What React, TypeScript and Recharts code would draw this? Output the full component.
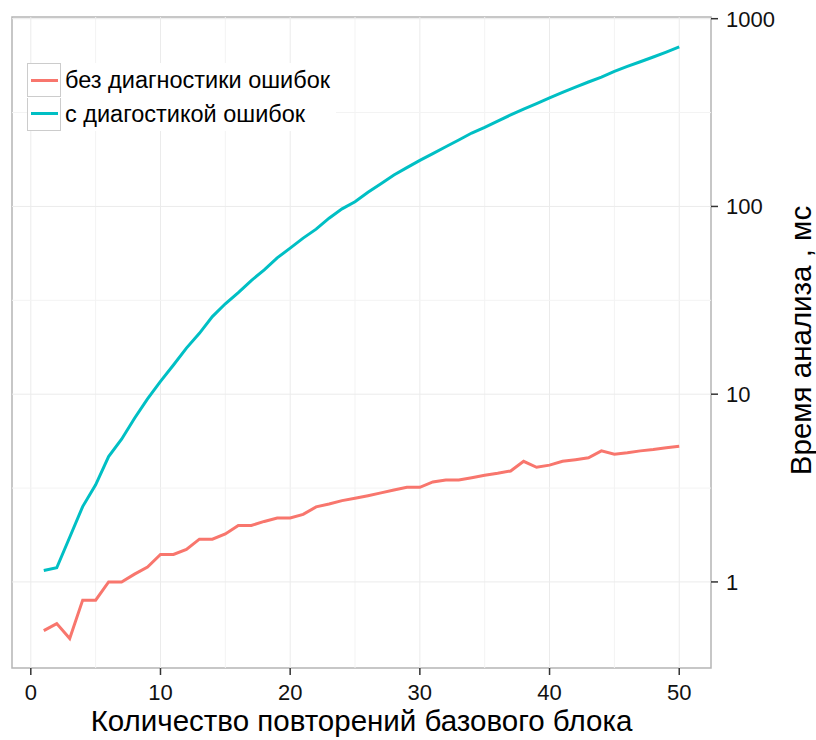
import {
  Legend,
  Line,
  LineChart,
  ReferenceArea,
  ReferenceLine,
  XAxis,
  YAxis,
} from "recharts";

const FONT = "'Liberation Sans', Arial, sans-serif";
const RED = "#F8766D";
const CYAN = "#00BFC4";

// block repetitions (x)
const repeats = [
  1, 2, 3, 4, 5, 6, 7, 8, 9, 10, 11, 12, 13, 14, 15, 16, 17, 18, 19, 20, 21,
  22, 23, 24, 25, 26, 27, 28, 29, 30, 31, 32, 33, 34, 35, 36, 37, 38, 39, 40,
  41, 42, 43, 44, 45, 46, 47, 48, 49, 50,
];

// analysis time, ms - without error diagnostics
const noDiag = [
  0.55, 0.6, 0.5, 0.8, 0.8, 1.0, 1.0, 1.1, 1.2, 1.4, 1.4, 1.49, 1.69, 1.69,
  1.8, 2.0, 2.0, 2.1, 2.19, 2.19, 2.29, 2.51, 2.6, 2.71, 2.79, 2.88, 2.98,
  3.09, 3.19, 3.19, 3.41, 3.49, 3.49, 3.59, 3.7, 3.79, 3.9, 4.39, 4.08, 4.19,
  4.39, 4.48, 4.58, 4.99, 4.79, 4.88, 4.99, 5.07, 5.18, 5.28,
];

// analysis time, ms - with error diagnostics
const withDiag = [
  1.15, 1.19, 1.73, 2.52, 3.29, 4.65, 5.76, 7.45, 9.44, 11.7, 14.3, 17.6, 21.1,
  25.9, 30.3, 34.8, 40.3, 45.9, 53.2, 60.0, 67.8, 75.7, 86.6, 97.1, 106, 119,
  132, 147, 161, 176, 191, 208, 226, 246, 264, 285, 307, 330, 353, 379, 405,
  432, 460, 489, 524, 557, 590, 625, 664, 708,
];

const xTicks = [0, 10, 20, 30, 40, 50];
const xGrid = [0, 5, 10, 15, 20, 25, 30, 35, 40, 45, 50];
const yTicks = [1, 10, 100, 1000];
const yGrid = [1, 3.162, 10, 31.62, 100, 316.2, 1000];
const xDomain: [number, number] = [-1.45, 52.45];
const yDomain: [number, number] = [0.348, 1021];

const seriesNames = ["без диагностики ошибок", "с диагостикой ошибок"];
const seriesColors = [RED, CYAN];

const data = repeats.map((n, i) => ({
  n,
  noDiag: noDiag[i],
  withDiag: withDiag[i],
}));

function LegendBox() {
  return (
    <div
      style={{
        background: "#fff",
        fontFamily: FONT,
        fontSize: 23.5,
        color: "#000",
        paddingRight: 6,
      }}
    >
      {seriesNames.map((name, i) => (
        <div
          key={name}
          style={{ display: "flex", alignItems: "center", height: 34 }}
        >
          <div
            style={{
              width: 34,
              height: i === 0 ? 34 : 33,
              boxSizing: "border-box",
              border: "1px solid #cccccc",
              borderTop: i === 0 ? "1px solid #cccccc" : "none",
              display: "flex",
              alignItems: "center",
              justifyContent: "center",
            }}
          >
            <div style={{ width: 27, height: 3, background: seriesColors[i] }} />
          </div>
          <span style={{ marginLeft: 4, whiteSpace: "nowrap" }}>{name}</span>
        </div>
      ))}
    </div>
  );
}

function YTitle(props: any) {
  const vb = props.viewBox;
  const x = vb.x + 100;
  const y = vb.y + vb.height / 2 - 2;
  return (
    <text
      x={x}
      y={y}
      transform={`rotate(-90 ${x} ${y})`}
      textAnchor="middle"
      fontSize={29.5}
      fontFamily={FONT}
      fill="#000"
    >
      Время анализа , мс
    </text>
  );
}

export default function App() {
  return (
    <div style={{ position: "absolute", left: 0, top: 0, background: "#fff" }}>
      <LineChart
        width={816}
        height={740}
        data={data}
        margin={{ top: 17, right: 0, bottom: 0, left: 12 }}
      >
        {xGrid.map((v) => (
          <ReferenceLine
            key={`gx${v}`}
            x={v}
            stroke={v % 10 === 0 ? "#ebebeb" : "#f3f3f3"}
            strokeWidth={1}
          />
        ))}
        {yGrid.map((v) => (
          <ReferenceLine
            key={`gy${v}`}
            y={v}
            stroke={yTicks.includes(v) ? "#ebebeb" : "#f3f3f3"}
            strokeWidth={1}
          />
        ))}
        <XAxis
          dataKey="n"
          type="number"
          domain={xDomain}
          ticks={xTicks}
          allowDataOverflow
          height={72}
          axisLine={false}
          tickLine={{ stroke: "#333", strokeWidth: 1.5 }}
          tickSize={7}
          tickMargin={9}
          tick={{ fill: "#111", fontSize: 22, fontFamily: FONT }}
          label={{
            value: "Количество повторений базового блока",
            position: "insideBottom",
            offset: 9,
            fontSize: 29.5,
            fontFamily: FONT,
            fill: "#000",
          }}
        />
        <YAxis
          orientation="right"
          scale="log"
          domain={yDomain}
          ticks={yTicks}
          allowDataOverflow
          width={105}
          axisLine={false}
          tickLine={{ stroke: "#333", strokeWidth: 1.5 }}
          tickSize={7}
          tickMargin={8}
          tick={{ fill: "#111", fontSize: 22, fontFamily: FONT, textAnchor: "start" }}
          label={<YTitle />}
        />
        <Legend
          layout="vertical"
          align="center"
          verticalAlign="middle"
          content={() => <LegendBox />}
          wrapperStyle={{ left: 27, top: 63, width: "auto", height: "auto" }}
        />
        <Line
          type="linear"
          dataKey="noDiag"
          stroke={RED}
          strokeWidth={3}
          dot={false}
          isAnimationActive={false}
        />
        <Line
          type="linear"
          dataKey="withDiag"
          stroke={CYAN}
          strokeWidth={3}
          dot={false}
          isAnimationActive={false}
        />
        <ReferenceArea
          x1={xDomain[0]}
          x2={xDomain[1]}
          y1={yDomain[0]}
          y2={yDomain[1]}
          fill="none"
          stroke="#b5b5b5"
          strokeWidth={1.5}
        />
      </LineChart>
    </div>
  );
}
